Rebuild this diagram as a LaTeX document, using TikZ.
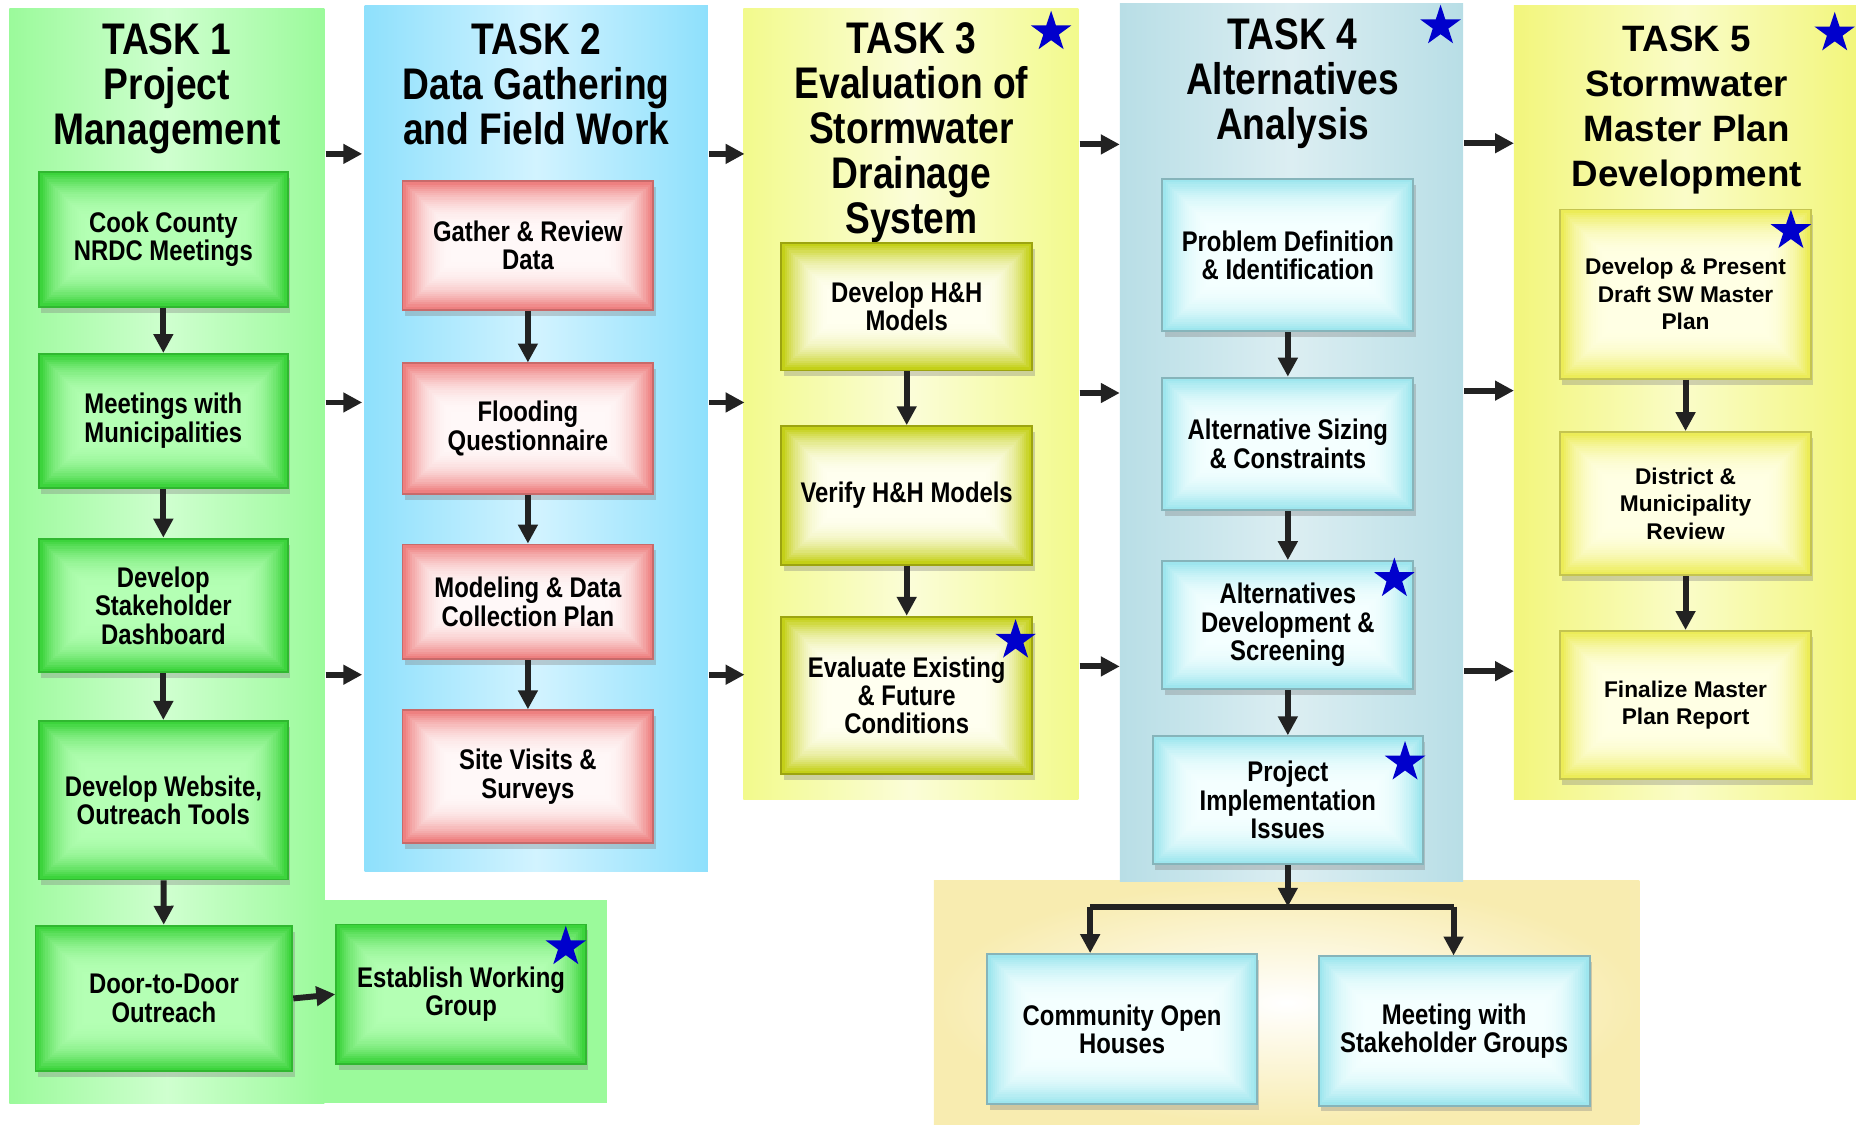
\documentclass[tikz,border=0pt]{standalone}
\usepackage{fontspec}
\setmainfont{Liberation Sans}
\newfontfamily\narrowfont[FakeStretch=0.84]{Liberation Sans}
\usetikzlibrary{shapes.geometric,shadows,arrows.meta}
\definecolor{arrowc}{HTML}{222222}
\definecolor{p1c}{HTML}{9BFA9B}\definecolor{p1m}{HTML}{CFFFCF}
\definecolor{p2c}{HTML}{8EE0FC}\definecolor{p2m}{HTML}{D2F3FF}
\definecolor{p3c}{HTML}{F2FA8C}\definecolor{p3m}{HTML}{FBFDD8}
\definecolor{p4c}{HTML}{B8DEE6}\definecolor{p4m}{HTML}{DCEEF2}
\definecolor{p5c}{HTML}{F2F67C}\definecolor{p5m}{HTML}{FAFCC8}
\definecolor{tanc}{HTML}{F8ECB0}
\definecolor{gout}{HTML}{3CD43C}\definecolor{gin}{HTML}{B4FFB4}\definecolor{gbd}{HTML}{30B830}
\definecolor{rout}{HTML}{EE8080}\definecolor{rin}{HTML}{FFF8F8}\definecolor{rbd}{HTML}{C86A6A}
\definecolor{yout}{HTML}{C4D018}\definecolor{yin}{HTML}{FFFFF0}\definecolor{ybd}{HTML}{9CA410}
\definecolor{cout}{HTML}{9EE6EE}\definecolor{cin}{HTML}{F4FFFF}\definecolor{cbd}{HTML}{86B4BA}
\definecolor{fout}{HTML}{ECEC58}\definecolor{fin}{HTML}{FFFFE4}\definecolor{fbd}{HTML}{C4C450}
\definecolor{starc}{HTML}{0000CC}
\begin{document}
\begin{tikzpicture}[x=0.5pt,y=-0.5pt,
  bevel/.style 2 args={path picture={
    \fill[#1] (path picture bounding box.south west) rectangle (path picture bounding box.north east);
    \foreach \k in {0,...,23}{
      \pgfmathsetmacro\pp{100*(1-(1-\k/24)^2.5)}
      \fill[#2!\pp!#1] ([shift={(0.6pt+\k*0.9pt,-0.6pt-\k*0.9pt)}]path picture bounding box.north west)
        rectangle ([shift={(-0.6pt-\k*0.9pt,0.6pt+\k*0.9pt)}]path picture bounding box.south east);
    }}},
  box/.style={draw, line width=0.8pt, text=black, align=center,
    font=\narrowfont\bfseries\fontsize{12pt}{12pt}\selectfont, inner sep=2pt,
    drop shadow={opacity=0.35, shadow xshift=1pt, shadow yshift=-2.5pt}},
  gbox/.style={box, draw=gbd, fill=gout, bevel={gout}{gin}},
  rbox/.style={box, draw=rbd, fill=rout, bevel={rout}{rin}},
  ybox/.style={box, draw=ybd, fill=yout, bevel={yout}{yin}},
  cbox/.style={box, draw=cbd, fill=cout, bevel={cout}{cin}},
  fbox/.style={box, draw=fbd, fill=fout, bevel={fout}{fin},
    font=\bfseries\fontsize{9.6pt}{11.6pt}\selectfont},
  title/.style={align=center, inner sep=0pt, text=black,
    font=\narrowfont\bfseries\fontsize{18.7pt}{19pt}\selectfont},
  wtitle/.style={align=center, inner sep=0pt, text=black,
    font=\bfseries\fontsize{15.5pt}{19pt}\selectfont},
  arr/.style={-{Triangle[length=8pt,width=8pt]}, line width=2.5pt, draw=arrowc},
  line/.style={line width=2.5pt, draw=arrowc},
  starnode/.style={star, star points=5, star point ratio=2.6, fill=starc,
    minimum size=18pt, inner sep=0pt, draw=none}]
\useasboundingbox (0,0) rectangle (1568,950);
% panels
\shade[left color=p1c, right color=p1c, middle color=p1m] (8,7) rectangle (274,932);
\fill[p1c] (273,760) rectangle (513,932);
\shade[left color=p2c, right color=p2c, middle color=p2m] (308,5) rectangle (598,736);
\shade[left color=p3c, right color=p3c, middle color=p3m] (628,7) rectangle (911,675);
\shade[inner color=white, outer color=tanc] (789,744) rectangle (1385,950);
\shade[left color=p4c, right color=p4c, middle color=p4m] (946,3) rectangle (1236,745);
\shade[left color=p5c, right color=p5c, middle color=p5m] (1279,5) rectangle (1568,675);
% titles
\node[title] (t1) at (141,75) {TASK 1\\Project\\Management};
\node[title] (t2) at (453,71) {TASK 2\\Data Gathering\\and Field Work};
\node[title] (t3) at (770,112) {TASK 3\\Evaluation of\\Stormwater\\Drainage\\System};
\node[title] (t4) at (1092,71) {TASK 4\\Alternatives\\Analysis};
\node[wtitle] (t5) at (1425,93) {TASK 5\\Stormwater\\Master Plan\\Development};
% task 1
\node[gbox, minimum width=105pt, minimum height=57pt] (b1a) at (138,202) {Cook County\\NRDC Meetings};
\node[gbox, minimum width=105pt, minimum height=56.5pt] (b1b) at (138,355.5) {Meetings with\\Municipalities};
\node[gbox, minimum width=105pt, minimum height=56.5pt] (b1c) at (138,511.5) {Develop\\Stakeholder\\Dashboard};
\node[gbox, minimum width=105pt, minimum height=67pt] (b1d) at (138,676) {Develop Website,\\Outreach Tools};
\node[gbox, minimum width=108.5pt, minimum height=61.5pt] (b1e) at (138.5,843.5) {Door-to-Door\\Outreach};
\node[gbox, minimum width=105.5pt, minimum height=59pt] (b1f) at (389.5,840) {Establish Working\\Group};
% task 2
\node[rbox, minimum width=106pt, minimum height=54.5pt] (b2a) at (446,207.5) {Gather \& Review\\Data};
\node[rbox, minimum width=106pt, minimum height=55pt] (b2b) at (446,362) {Flooding\\Questionnaire};
\node[rbox, minimum width=106pt, minimum height=48.5pt] (b2c) at (446,508.5) {Modeling \& Data\\Collection Plan};
\node[rbox, minimum width=106pt, minimum height=56pt] (b2d) at (446,656) {Site Visits \&\\Surveys};
% task 3
\node[ybox, minimum width=106pt, minimum height=54pt] (b3a) at (766,259) {Develop H\&H\\Models};
\node[ybox, minimum width=106pt, minimum height=58.5pt] (b3b) at (766,418.5) {Verify H\&H Models};
\node[ybox, minimum width=106pt, minimum height=66.5pt] (b3c) at (766,587.5) {Evaluate Existing\\\& Future\\Conditions};
% task 4
\node[cbox, minimum width=106pt, minimum height=64.5pt] (b4a) at (1088,215.5) {Problem Definition\\\& Identification};
\node[cbox, minimum width=106pt, minimum height=56pt] (b4b) at (1088,375) {Alternative Sizing\\\& Constraints};
\node[cbox, minimum width=106pt, minimum height=54pt] (b4c) at (1088,528) {Alternatives\\Development \&\\Screening};
\node[cbox, minimum width=114pt, minimum height=54pt] (b4d) at (1088,676) {Project\\Implementation\\Issues};
\node[cbox, minimum width=114pt, minimum height=63.5pt] (b6a) at (948,869.5) {Community Open\\Houses};
\node[cbox, minimum width=114.5pt, minimum height=63pt] (b6b) at (1228.5,871) {Meeting with\\Stakeholder Groups};
% task 5
\node[fbox, minimum width=106pt, minimum height=71.5pt] (b5a) at (1424,248.5) {Develop \& Present\\Draft SW Master\\Plan};
\node[fbox, minimum width=106pt, minimum height=60.5pt] (b5b) at (1424,425.5) {District \&\\Municipality\\Review};
\node[fbox, minimum width=106pt, minimum height=62.5pt] (b5c) at (1424,595.5) {Finalize Master\\Plan Report};
% stars
\node[starnode] (s3) at (888,27) {};
\node[starnode] (s4) at (1217,22) {};
\node[starnode] (s5) at (1550,28) {};
\node[starnode] (s1f) at (478,800) {};
\node[starnode] (s3c) at (858,541) {};
\node[starnode] (s4c) at (1178,489) {};
\node[starnode] (s4d) at (1187,644) {};
\node[starnode] (s5a) at (1513,195) {};
% vertical arrows
\draw[arr] (b1a) -- (b1b);
\draw[arr] (b1b) -- (b1c);
\draw[arr] (b1c) -- (b1d);
\draw[arr] (b1d) -- (b1e);
\draw[arr] (b1e.east) -- (b1f.west);
\draw[arr] (b2a) -- (b2b);
\draw[arr] (b2b) -- (b2c);
\draw[arr] (b2c) -- (b2d);
\draw[arr] (b3a) -- (b3b);
\draw[arr] (b3b) -- (b3c);
\draw[arr] (b4a) -- (b4b);
\draw[arr] (b4b) -- (b4c);
\draw[arr] (b4c) -- (b4d);
\draw[arr] (b5a) -- (b5b);
\draw[arr] (b5b) -- (b5c);
% branch
\coordinate (jc) at (1088,766);
\coordinate (jl) at (921,766);
\coordinate (jr) at (1228,766);
\draw[line] (jl) -- (jr);
\draw[arr] (b4d.south) -- (jc);
\draw[arr] (jl) -- (jl |- b6a.north);
\draw[arr] (jr) -- (jr |- b6b.north);
% inter-panel arrows
\foreach \y [count=\i] in {130,340,570}{
  \coordinate (a12s\i) at (275,\y); \coordinate (a12e\i) at (306,\y);
  \draw[arr] (a12s\i) -- (a12e\i);
  \coordinate (a23s\i) at (599,\y); \coordinate (a23e\i) at (629,\y);
  \draw[arr] (a23s\i) -- (a23e\i);
}
\foreach \y [count=\i] in {122,332,563}{
  \coordinate (a34s\i) at (912,\y); \coordinate (a34e\i) at (946,\y);
  \draw[arr] (a34s\i) -- (a34e\i);
}
\foreach \y [count=\i] in {121,330,567}{
  \coordinate (a45s\i) at (1237,\y); \coordinate (a45e\i) at (1279,\y);
  \draw[arr] (a45s\i) -- (a45e\i);
}
\end{tikzpicture}
\end{document}
